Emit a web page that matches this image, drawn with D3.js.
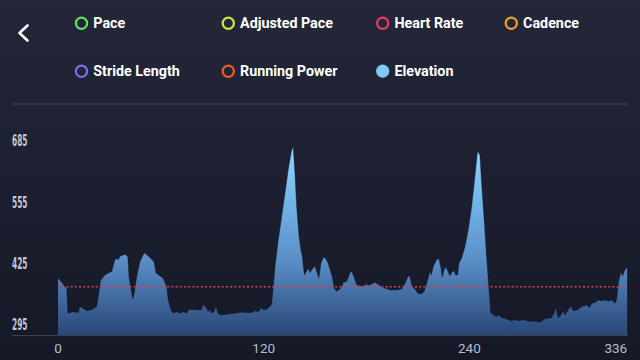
<!DOCTYPE html>
<html><head><meta charset="utf-8">
<script src="https://cdn.jsdelivr.net/npm/d3@7/dist/d3.min.js"></script>
<style>html,body{margin:0;padding:0;background:#1c1f30;overflow:hidden}svg{display:block}</style>
</head><body><svg id="c" width="640" height="360"></svg>
<script>
const legendLabels = ["Pace","Adjusted Pace","Heart Rate","Cadence","Stride Length","Running Power","Elevation"];
const legendColors = ["#62e05a","#c6e84a","#e63b5f","#f29a2e","#7b6cf0","#ee5a2d","#7ec8fa"];
const legendFilled = [false,false,false,false,false,false,true];
const yTicks = [295,425,555,685];
const xTicks = [0,120,240,336];
const avgElevation = 375;
const distance = [0,1.8,4.1,5.1,5.7,7,8.9,11.8,12.8,14.8,16.7,19.7,22.6,23.5,24.9,27.4,29.3,31.3,33.2,34.2,35.2,36.2,38.1,39.1,40.7,41.4,42.6,43.6,44.5,45.9,47.8,50.3,52.7,56,57.2,59.5,61.4,63.4,64.3,65.9,67.2,69.2,71.2,73.1,75.1,76,78,79.9,83.8,84.7,86.7,87.7,88.6,89.6,91,92.1,93.5,95.5,99.3,103.2,107.1,113,114.9,116.8,118.8,119.7,121.7,123.6,124.6,125.6,126.6,128.5,130.5,132.4,134.3,136.3,137.2,138.2,139.2,140.6,141.7,142.5,143.7,145,146,147,148.3,149.9,150.9,152.2,153.4,154.7,156.1,157.6,159.2,160,161.1,162.5,164.5,165.5,166.4,168.4,170.3,171.3,172.6,174.2,176.1,178.6,179.5,181,182.6,184.9,186.8,188.8,190.7,192.3,193.6,197.5,200.5,202.4,204.3,205.3,206.6,208.2,210.1,212.1,213.6,215,217,217.9,218.9,220.9,222.2,223.4,224.1,225.7,226.7,228.6,230,231.1,231.9,233.1,233.9,235.4,237.4,239.3,241.3,242.8,244.2,244.8,246.1,247.1,248.6,250,251.4,252.4,253.9,255.9,257.2,258.8,260.7,262.6,264.6,266.5,268.5,271.4,274.3,277.2,280.1,281.7,283,285,287.9,289.3,290.3,291.8,293.4,294.7,295.7,297.6,299.2,300.5,303.4,305.4,308.3,310.3,311.2,313.2,315.1,317.1,319,321,322.9,324.9,325.8,327.2,328.4,329.4,330.7,332];
const elevation = [393,386,375,372,319,320,322,320,333,329,324,326,333,354,389,400,404,407,432,435,432,440,442,444,439,396,368,349,361,396,428,447,440,428,404,398,393,375,347,326,319,322,319,322,319,326,327,326,326,338,329,322,327,319,322,333,317,315,317,319,321,320,324,322,331,326,327,333,338,375,418,474,524,573,623,665,671,616,545,481,453,439,400,408,414,405,412,419,407,393,425,437,435,425,404,396,372,365,370,375,384,386,404,408,396,379,377,377,381,378,380,384,380,375,372,370,368,368,370,382,398,396,375,370,360,360,365,382,407,400,418,432,435,414,395,416,414,398,407,409,400,400,425,435,460,495,545,594,644,663,654,594,517,439,368,320,315,312,315,309,308,305,303,305,303,305,302,302,301,300,305,308,309,319,331,309,315,324,315,326,334,324,326,333,336,331,340,341,347,345,347,344,347,340,347,389,406,398,411,416];

const data = distance.map((d,i)=>({d, e: elevation[i]}));
const svg = d3.select("#c");
const W = 640, H = 360;
const x = d3.scaleLinear().domain([0,336]).range([58,634]);
const y = d3.scaleLinear().domain([272.7,685]).range([335,140.5]);

const defs = svg.append("defs");
const bg = defs.append("linearGradient").attr("id","bg").attr("x1",0).attr("y1",0).attr("x2",0).attr("y2",1);
bg.append("stop").attr("offset",0).attr("stop-color","#242739");
bg.append("stop").attr("offset",1).attr("stop-color","#151826");
const ag = defs.append("linearGradient").attr("id","ag").attr("gradientUnits","userSpaceOnUse")
  .attr("x1",0).attr("x2",0).attr("y1",y(d3.max(elevation))).attr("y2",y.range()[0]);
[[0,"#8fd6ff"],[0.3,"#72b3e8"],[0.6,"#5a8fc7"],[1,"#2a4677"]].forEach(s=>ag.append("stop").attr("offset",s[0]).attr("stop-color",s[1]));

svg.append("rect").attr("width",W).attr("height",H).attr("fill","url(#bg)");

// back chevron
svg.append("path").attr("d","M27.5,25.5 L19.5,33 L27.5,40.5").attr("fill","none").attr("stroke","#fff")
  .attr("stroke-width",2.6).attr("stroke-linecap","round").attr("stroke-linejoin","round");

// legend
const colX = [81.5,228.3,382.7,511.3];
const legendPos = [[0,0],[1,0],[2,0],[3,0],[0,1],[1,1],[2,1]];
const rowY = [23.2,71.2];
const lg = svg.append("g").selectAll("g").data(legendLabels).join("g")
  .attr("transform",(d,i)=>`translate(${colX[legendPos[i][0]]},${rowY[legendPos[i][1]]})`);
lg.append("circle").attr("r",(d,i)=>legendFilled[i]?6.6:5.6)
  .attr("fill",(d,i)=>legendFilled[i]?legendColors[i]:"none")
  .attr("stroke",(d,i)=>legendFilled[i]?"none":legendColors[i]).attr("stroke-width",2.2);
lg.append("text").attr("x",11.8).attr("y",5).text(d=>d)
  .attr("fill","#ffffff").attr("font-family","Roboto, 'Noto Sans', sans-serif")
  .attr("font-weight",700).attr("font-size",14.3);

// separator
svg.append("line").attr("x1",12).attr("x2",628).attr("y1",104).attr("y2",104)
  .attr("stroke","#373b4d").attr("stroke-width",1.5);

// area
const area = d3.area().x(d=>x(d.d)).y0(y.range()[0]).y1(d=>y(d.e));
svg.append("path").datum(data).attr("d",area).attr("fill","url(#ag)");
const line = d3.line().x(d=>x(d.d)).y(d=>y(d.e));
svg.append("path").datum(data).attr("d",line).attr("fill","none").attr("stroke","rgba(10,14,28,0.35)").attr("stroke-width",1);

// avg dashed line
svg.append("line").attr("x1",x(0)).attr("x2",x(distance[distance.length-1]))
  .attr("y1",y(avgElevation)).attr("y2",y(avgElevation))
  .attr("stroke","#c8424f").attr("stroke-width",1.4).attr("stroke-dasharray","2,2.2");

// baseline
svg.append("line").attr("x1",12).attr("x2",628).attr("y1",y.range()[0]+0.5).attr("y2",y.range()[0]+0.5)
  .attr("stroke","#3a3f52").attr("stroke-width",1);

// y labels
svg.append("g").selectAll("text").data(yTicks).join("text")
  .attr("x",12).attr("y",d=>y(d)).attr("dy","0.37em").text(d=>d)
  .attr("fill","#c5c8d4").attr("font-family","'Liberation Sans Narrow','DejaVu Sans Condensed',sans-serif")
  .attr("font-weight",700).attr("font-size",16)
  .attr("textLength",15.5).attr("lengthAdjust","spacingAndGlyphs");

// x labels
const lastD = distance[distance.length-1];
svg.append("g").selectAll("text").data(xTicks).join("text")
  .attr("x",(d,i)=> i===xTicks.length-1 ? x(lastD) : x(d))
  .attr("y",353).text(d=>d)
  .attr("text-anchor",(d,i)=> i===xTicks.length-1 ? "end" : "middle")
  .attr("fill","#b9bdc9").attr("font-family","Roboto, sans-serif").attr("font-size",13.5);
</script></body></html>
